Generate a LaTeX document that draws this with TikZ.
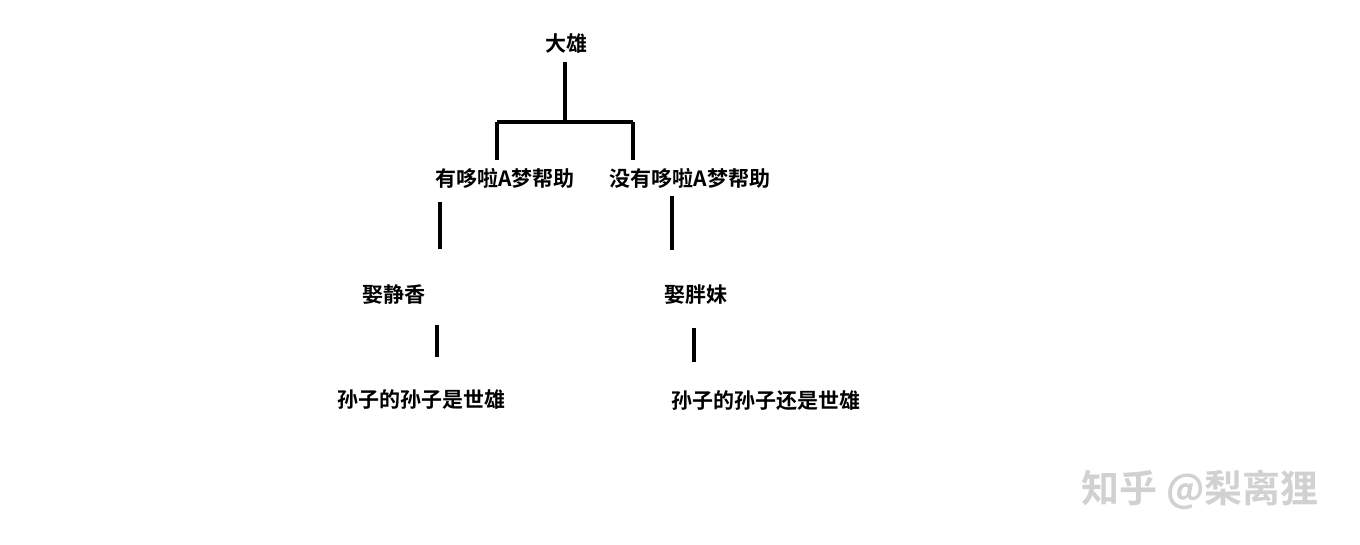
\documentclass[tikz,border=0pt]{standalone}
\usepackage{fontspec}
\newfontfamily\cjk{Noto Sans CJK SC Bold}
\begin{document}
\begin{tikzpicture}[x=1pt,y=-1pt,
  lbl/.style={font=\cjk\fontsize{21}{24}\selectfont,inner sep=0pt},
  ln/.style={line width=3.5pt,line cap=butt}]
\useasboundingbox (0,0) rectangle (1360,545);
\node[lbl] (a) at (566,44) {大雄};
\node[lbl] (b) at (505,178) {有哆啦A梦帮助};
\node[lbl] (c) at (690,178) {没有哆啦A梦帮助};
\node[lbl] (d) at (394,295) {娶静香};
\node[lbl] (e) at (696,295) {娶胖妹};
\node[lbl] (f) at (421,400) {孙子的孙子是世雄};
\node[lbl] (g) at (766,401) {孙子的孙子还是世雄};
\node[font=\cjk\fontsize{38}{40}\selectfont,text=black!18,inner sep=0pt] (w) at (1200,490) {知乎 @梨离狸};
\coordinate (a1) at (565,62); \coordinate (j) at (565,122);
\coordinate (jl) at (497,122); \coordinate (jr) at (633,122);
\coordinate (bl) at (497,160); \coordinate (cr) at (633,160);
\draw[ln] (a1) -- (j);
\draw[ln] (jl) -- (jr);
\draw[ln] (jl) -- (bl);
\draw[ln] (jr) -- (cr);
\coordinate (b1) at (440,202); \coordinate (d1) at (440,249);
\coordinate (c1) at (672,196); \coordinate (e1) at (672,250);
\coordinate (d2) at (437,325); \coordinate (f1) at (437,357);
\coordinate (e2) at (694,328); \coordinate (g1) at (694,362);
\draw[ln] (b1) -- (d1);
\draw[ln] (c1) -- (e1);
\draw[ln] (d2) -- (f1);
\draw[ln] (e2) -- (g1);
\end{tikzpicture}
\end{document}
